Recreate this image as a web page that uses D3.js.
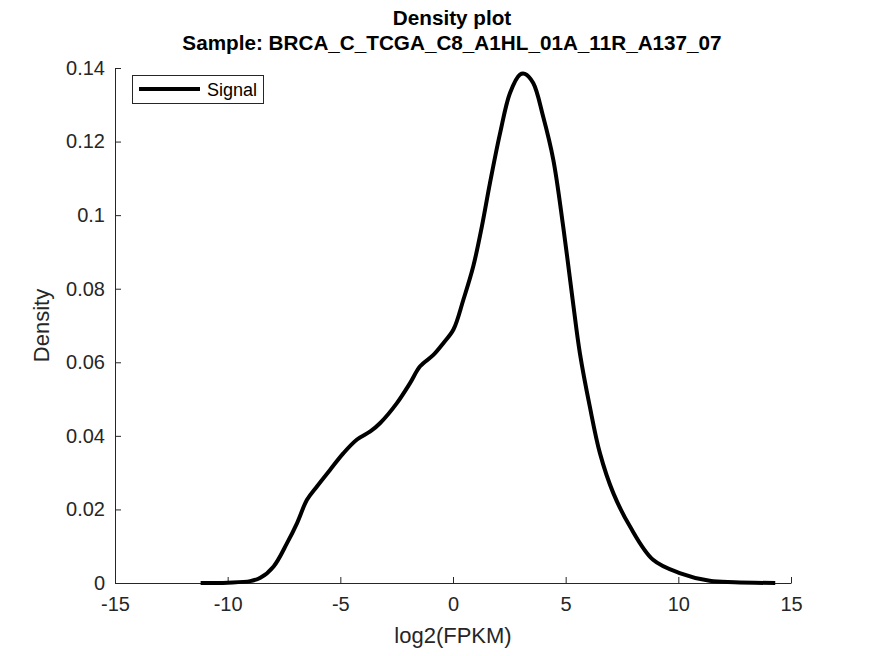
<!DOCTYPE html>
<html>
<head>
<meta charset="utf-8">
<script src="https://cdn.jsdelivr.net/npm/d3@7"></script>
<style>
  html, body { margin: 0; padding: 0; background: #fff; }
  svg { display: block; font-family: "Liberation Sans", Arial, sans-serif; }
</style>
</head>
<body>
<svg id="chart" width="875" height="656"></svg>
<script>
// ---- data ----
const titleLines = ["Density plot", "Sample: BRCA_C_TCGA_C8_A1HL_01A_11R_A137_07"];
const xLabel = "log2(FPKM)";
const yLabel = "Density";
const seriesName = "Signal";
const xTicks = [-15, -10, -5, 0, 5, 10, 15];
const yTicks = [0, 0.02, 0.04, 0.06, 0.08, 0.1, 0.12, 0.14];
const xValues = [-11.2, -10, -9, -8.55, -7.96, -7.36, -6.92, -6.48, -6.03, -5.45, -4.86, -4.26,
  -3.67, -3.23, -2.49, -1.90, -1.46, -0.87, -0.43, 0.02, 0.46, 0.90, 1.28, 1.64, 2.09, 2.53,
  2.97, 3.19, 3.56, 4.0, 4.45, 4.89, 5.3, 5.63, 6.07, 6.52, 7.11, 7.85, 8.88, 10.06, 11.39, 12.5, 14.3];
const densityValues = [0, 0.0001, 0.0005, 0.0014, 0.0045, 0.0109, 0.0163, 0.0226, 0.0263, 0.0308,
  0.0353, 0.039, 0.0412, 0.0435, 0.0489, 0.0544, 0.0589, 0.062, 0.0652, 0.0689, 0.077, 0.0861,
  0.0969, 0.1087, 0.1223, 0.1332, 0.1382, 0.1384, 0.1359, 0.1268, 0.1151, 0.0969, 0.0775, 0.0625,
  0.048, 0.0353, 0.0245, 0.0154, 0.0063, 0.0027, 0.0006, 0.0002, 0];

(function () {
// ---- layout ----
const pL = 115, pR = 791, pT = 68, pB = 583;
const axisColor = "#262626";

const svg = d3.select("#chart");
const x = d3.scaleLinear().domain([-15, 15]).range([pL, pR]);
const y = d3.scaleLinear().domain([0, 0.14]).range([pB, pT]);

// x axis
const xAxis = d3.axisBottom(x).tickValues(xTicks).tickSizeInner(-6).tickSizeOuter(0)
  .tickPadding(14).tickFormat(d => d < 0 ? "-" + Math.abs(d) : String(d));
const gx = svg.append("g").attr("transform", `translate(0,${pB})`).call(xAxis);
gx.select(".domain").attr("stroke", axisColor).attr("stroke-width", 1);
gx.selectAll(".tick line").attr("stroke", axisColor);
gx.selectAll(".tick text").attr("fill", axisColor).attr("font-size", 20)
  .attr("font-family", "Liberation Sans, Arial, sans-serif");

// y axis
const yAxis = d3.axisLeft(y).tickValues(yTicks).tickSizeInner(-6).tickSizeOuter(0)
  .tickPadding(10).tickFormat(d => d === 0 ? "0" : String(+d.toFixed(2)));
const gy = svg.append("g").attr("transform", `translate(${pL},0)`).call(yAxis);
gy.select(".domain").attr("stroke", axisColor).attr("stroke-width", 1);
gy.selectAll(".tick line").attr("stroke", axisColor);
gy.selectAll(".tick text").attr("fill", axisColor).attr("font-size", 20)
  .attr("font-family", "Liberation Sans, Arial, sans-serif");

// axis labels
svg.append("text").attr("x", (pL + pR) / 2).attr("y", 643)
  .attr("text-anchor", "middle").attr("font-size", 22).attr("fill", axisColor).text(xLabel);
svg.append("text").attr("transform", `translate(49,${(pT + pB) / 2}) rotate(-90)`)
  .attr("text-anchor", "middle").attr("font-size", 22).attr("fill", axisColor).text(yLabel);

// title
svg.append("text").attr("x", (pL + pR) / 2 - 1).attr("y", 25)
  .attr("text-anchor", "middle").attr("font-size", 20.7).attr("font-weight", "bold")
  .attr("fill", "#000").text(titleLines[0]);
svg.append("text").attr("x", (pL + pR) / 2 - 1).attr("y", 50)
  .attr("text-anchor", "middle").attr("font-size", 20.7).attr("font-weight", "bold")
  .attr("fill", "#000").text(titleLines[1]);

// curve
const pts = xValues.map((v, i) => [v, densityValues[i]]);
const line = d3.line().x(d => x(d[0])).y(d => y(Math.max(0, d[1]))).curve(d3.curveCatmullRom.alpha(0.5));
svg.append("path").datum(pts).attr("d", line).attr("fill", "none")
  .attr("stroke", "#000").attr("stroke-width", 4).attr("stroke-linejoin", "round");

// legend
const lg = svg.append("g");
lg.append("rect").attr("x", 132.5).attr("y", 75.5).attr("width", 131).attr("height", 28)
  .attr("fill", "#fff").attr("stroke", axisColor).attr("stroke-width", 1);
lg.append("line").attr("x1", 139).attr("x2", 200).attr("y1", 89).attr("y2", 89)
  .attr("stroke", "#000").attr("stroke-width", 4);
lg.append("text").attr("x", 207).attr("y", 95.5).attr("font-size", 18).attr("fill", "#000").text(seriesName);
})();
</script>
</body>
</html>
